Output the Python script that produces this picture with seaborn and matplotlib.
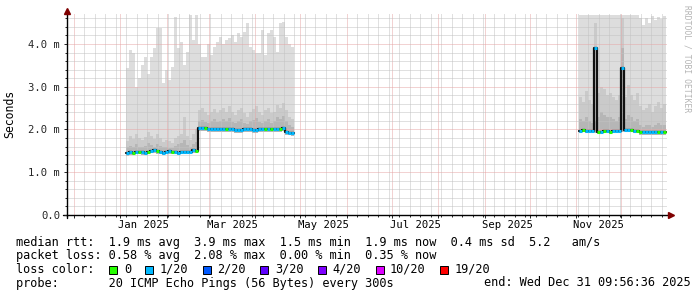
import numpy as np
import pandas as pd
import matplotlib
matplotlib.use("Agg")
import matplotlib.pyplot as plt
import matplotlib.dates as mdates
from matplotlib.patches import Rectangle
import seaborn as sns

# ---------------- data ----------------
step_days = 2
end_time = "2025-12-31 09:56:36"
span_days = 400

# segment 1 (Jan - Apr 2025), one value per 2 days
seg1_start = "2025-01-05"
seg1_top = [3.43, 3.86, 3.78, 3.0, 3.2, 3.5, 3.7, 3.3, 3.7, 3.9,
            4.37, 4.37, 3.08, 3.4, 3.16, 3.47, 4.64, 3.9, 4.05, 3.5,
            3.82, 4.68, 4.1, 4.68, 4.0, 3.7, 3.7, 4.0, 3.74, 3.94,
            4.05, 4.17, 4.0, 4.1, 4.13, 4.2, 4.05, 4.25, 4.17, 4.29,
            4.48, 3.94, 3.86, 3.78, 3.78, 4.33, 3.74, 4.25, 4.33, 4.17,
            3.82, 4.48, 4.52, 4.17, 4.0, 3.94]
seg1_mid = [1.72, 1.85, 1.78, 1.9, 1.8, 1.75, 1.82, 1.95, 1.85, 1.78,
            1.9, 1.8, 1.7, 1.75, 1.72, 1.68, 1.8, 1.85, 1.9, 2.3,
            1.85, 1.75, 1.9, 2.0, 2.45, 2.5, 2.4, 2.35, 2.42, 2.48,
            2.38, 2.45, 2.5, 2.42, 2.55, 2.4, 2.35, 2.45, 2.5, 2.38,
            2.3, 2.42, 2.48, 2.55, 2.4, 2.35, 2.45, 2.5, 2.38, 2.42,
            2.58, 2.5, 2.62, 2.45, 2.3, 2.25]
seg1_dark = [1.58, 1.62, 1.6, 1.65, 1.6, 1.58, 1.62, 1.68, 1.64, 1.6,
             1.66, 1.62, 1.58, 1.6, 1.57, 1.56, 1.62, 1.65, 1.68, 1.75,
             1.64, 1.6, 1.66, 1.7, 2.2, 2.22, 2.18, 2.15, 2.2, 2.24,
             2.18, 2.2, 2.25, 2.2, 2.28, 2.18, 2.15, 2.2, 2.24, 2.16,
             2.12, 2.2, 2.22, 2.28, 2.18, 2.15, 2.2, 2.25, 2.16, 2.2,
             2.3, 2.24, 2.32, 2.2, 2.1, 2.05]
seg1_median = [1.45, 1.47, 1.46, 1.47, 1.48, 1.47, 1.46, 1.48, 1.50, 1.52,
               1.49, 1.47, 1.46, 1.47, 1.49, 1.48, 1.47, 1.46, 1.47, 1.48,
               1.47, 1.48, 1.51, 1.50, 2.04, 2.03, 2.03, 2.02, 2.02, 2.02,
               2.01, 2.01, 2.01, 2.0, 2.0, 2.0, 1.99, 1.99, 1.99, 2.0,
               2.0, 2.0, 1.99, 1.99, 2.0, 2.0, 2.0, 2.01, 2.01, 2.01,
               2.0, 2.02, 2.03, 1.93, 1.92, 1.91]
seg1_min = [1.39, 1.41, 1.41, 1.42, 1.42, 1.41, 1.41, 1.42, 1.44, 1.45,
            1.43, 1.42, 1.41, 1.42, 1.43, 1.42, 1.42, 1.41, 1.42, 1.42,
            1.42, 1.43, 1.45, 1.44, 1.97, 1.96, 1.96, 1.95, 1.95, 1.95,
            1.94, 1.94, 1.94, 1.93, 1.93, 1.93, 1.92, 1.92, 1.92, 1.93,
            1.93, 1.93, 1.92, 1.92, 1.93, 1.93, 1.93, 1.94, 1.94, 1.94,
            1.93, 1.95, 1.96, 1.87, 1.86, 1.85]
seg1_loss = [1, 1, 0, 1, 0, 1, 1, 0, 1, 1,
             0, 1, 1, 1, 1, 0, 1, 1, 1, 1,
             1, 1, 1, 0, 1, 1, 0, 1, 1, 1,
             1, 1, 1, 0, 1, 1, 1, 1, 1, 1,
             1, 1, 1, 1, 1, 1, 0, 1, 0, 1,
             1, 0, 1, 1, 1, 1]

# segment 2 (Nov - Dec 2025)
seg2_start = "2025-11-03"
seg2_top = [4.68, 4.68, 4.68, 4.68, 4.68, 4.68, 4.68, 4.68, 4.68, 4.68,
            4.68, 4.68, 4.68, 4.68, 4.68, 4.68, 4.68, 4.68, 4.68, 4.68,
            4.6, 4.45, 4.6, 4.5, 4.65, 4.55, 4.62, 4.58, 4.65]
seg2_mid = [2.75, 2.65, 2.9, 2.7, 2.6, 4.5, 2.85, 3.0, 2.95, 2.8,
            2.85, 2.75, 2.7, 2.8, 4.6, 2.75, 3.05, 2.8, 2.7, 2.85,
            2.55, 2.45, 2.5, 2.6, 2.4, 2.55, 2.65, 2.5, 2.6]
seg2_dark = [2.25, 2.2, 2.3, 2.2, 2.15, 2.2, 2.3, 2.4, 2.35, 2.3,
             2.3, 2.25, 2.2, 2.3, 3.9, 2.25, 2.35, 2.3, 2.2, 2.25,
             2.1, 2.05, 2.1, 2.1, 2.05, 2.1, 2.15, 2.1, 2.1]
seg2_median = [1.97, 1.98, 1.97, 1.96, 1.96, 3.9, 1.95, 1.95, 1.96, 1.96,
               1.95, 1.96, 1.96, 1.96, 3.45, 1.99, 1.99, 1.98, 1.97, 1.96,
               1.94, 1.93, 1.93, 1.93, 1.93, 1.93, 1.94, 1.94, 1.94]
seg2_min = [1.92, 1.93, 1.92, 1.91, 1.91, 1.91, 1.90, 1.90, 1.91, 1.91,
            1.90, 1.91, 1.91, 1.91, 1.93, 1.94, 1.94, 1.93, 1.92, 1.91,
            1.88, 1.87, 1.87, 1.87, 1.87, 1.87, 1.88, 1.88, 1.88]
seg2_loss = [1, 0, 1, 1, 1, 1, 0, 1, 0, 1,
             0, 1, 1, 1, 1, 1, 1, 0, 1, 0,
             0, 1, 1, 1, 1, 1, 0, 1, 0]

loss_labels = ["0", "1/20", "2/20", "3/20", "4/20", "10/20", "19/20"]
loss_colors = ["#26ff00", "#00b8ff", "#0059ff", "#5e00ff", "#7e00ff", "#dd00ff", "#ff0000"]

y_ticks = [0, 1, 2, 3, 4]
y_tick_labels = ["0.0", "1.0 m", "2.0 m", "3.0 m", "4.0 m"]
x_label_months = ["2025-01", "2025-03", "2025-05", "2025-07", "2025-09", "2025-11"]
x_labels = ["Jan 2025", "Mar 2025", "May 2025", "Jul 2025", "Sep 2025", "Nov 2025"]

line_rtt = "median rtt:  1.9 ms avg  3.9 ms max  1.5 ms min  1.9 ms now  0.4 ms sd  5.2   am/s"
line_loss = "packet loss: 0.58 % avg  2.08 % max  0.00 % min  0.35 % now"
line_color = "loss color:"
line_probe = "probe:       20 ICMP Echo Pings (56 Bytes) every 300s"
line_end = "end: Wed Dec 31 09:56:36 2025"
y_unit = "Seconds"
watermark = "RRDTOOL / TOBI OETIKER"

# ---------------- style ----------------
sns.set_theme(style="ticks")
plt.rcParams["font.family"] = ["DejaVu Sans Mono", "DejaVu Sans"]
plt.rcParams["text.color"] = "black"

W, H = 697, 297
fig = plt.figure(figsize=(W / 100, H / 100), dpi=100, facecolor="white")
ax = fig.add_axes([67 / W, (H - 215) / H, 600 / W, (215 - 13) / H])
ax.set_facecolor("white")

x_end = pd.Timestamp(end_time)
x_start = x_end - pd.Timedelta(days=span_days)


def draw_segment(start, top, mid, dark, med, mn, loss):
    n = len(top)
    edges = pd.date_range(start, periods=n + 1, freq=f"{step_days}D")
    ext = lambda a: np.append(np.asarray(a, float), a[-1])
    ax.fill_between(edges, ext(mn), ext(top), step="post", color="#dddddd", lw=0, zorder=1)
    ax.fill_between(edges, ext(mn), ext(mid), step="post", color="#cacaca", lw=0, zorder=1.1)
    ax.fill_between(edges, ext(mn), ext(dark), step="post", color="#b6b6b6", lw=0, zorder=1.2)
    sns.lineplot(x=edges, y=ext(med), drawstyle="steps-post", color="#111111",
                 lw=1.6, ax=ax, zorder=3)
    en = mdates.date2num(edges.to_pydatetime())
    ax.hlines(med, en[:-1], en[1:], colors=[loss_colors[k] for k in loss],
              lw=2.2, zorder=4, capstyle="butt")


draw_segment(seg1_start, seg1_top, seg1_mid, seg1_dark, seg1_median, seg1_min, seg1_loss)
draw_segment(seg2_start, seg2_top, seg2_mid, seg2_dark, seg2_median, seg2_min, seg2_loss)

ax.set_xlim(x_start, x_end)
ax.set_ylim(0, 4.725)
ax.set_xlabel("")
ax.set_ylabel("")

months = pd.date_range("2024-12-01", "2025-12-01", freq="MS")
weeks = pd.date_range(x_start.normalize(), x_end, freq="W-SUN")
ax.set_xticks(months)
ax.set_xticklabels([])
ax.set_xticks(weeks, minor=True)
ax.set_yticks(y_ticks, y_tick_labels)
ax.set_yticks(np.arange(0.2, 4.72, 0.2), minor=True)

ax.set_axisbelow(False)
ax.grid(which="major", color="#e6a6a6", lw=0.72, ls=(0, (1, 1)), zorder=2)
ax.grid(which="minor", color="#c2c2c2", lw=0.72, ls=(0, (1, 1)), zorder=2)

ax.tick_params(axis="y", which="major", length=2, width=0.7, pad=3, labelsize=7.6,
               direction="out", left=True)
ax.tick_params(axis="y", which="minor", length=1.5, width=0.7, left=True)
ax.tick_params(axis="x", which="major", length=2.5, width=0.7, bottom=True)
ax.tick_params(axis="x", which="minor", length=1.5, width=0.7, bottom=True)

for s in ["top", "right"]:
    ax.spines[s].set_visible(False)
for s in ["left", "bottom"]:
    ax.spines[s].set_color("#000000")
    ax.spines[s].set_linewidth(1.0)
    ax.spines[s].set_zorder(5)

# axis extensions and arrows
ax.plot([-4 / 600, 0], [0, 0], transform=ax.transAxes, color="black", lw=1.0, clip_on=False)
ax.plot([0, 0], [-3 / 202, 0], transform=ax.transAxes, color="black", lw=1.0, clip_on=False)
ax.plot([0], [1 + 2.5 / 202], marker="^", ms=5, color="#7f0000", transform=ax.transAxes,
        clip_on=False, zorder=6)
ax.plot([1 + 3.5 / 600], [0], marker=">", ms=5, color="#7f0000", transform=ax.transAxes,
        clip_on=False, zorder=6)

# month labels centered in month
for m, lab in zip(x_label_months, x_labels):
    ts = pd.Timestamp(m)
    mid = ts + pd.Timedelta(days=ts.days_in_month / 2)
    ax.annotate(lab, xy=(mdates.date2num(mid.to_pydatetime()), 0),
                xycoords=("data", "axes fraction"), xytext=(0, -10),
                textcoords="offset pixels", ha="center", va="center",
                fontsize=7.6, annotation_clip=False)

# unit and watermark
fig.text(10 / W, 1 - 113.5 / H, y_unit, rotation=90, ha="center", va="center", fontsize=8.3)
fig.text(687 / W, 1 - 5 / H, watermark, rotation=270, ha="center", va="top",
         fontsize=5.8, color="#b4b4b4")

# legend text
fs = 8.6
cw = 0.602 * fs * 100 / 72
x0 = 16
fig.text(x0 / W, 1 - 242.5 / H, line_rtt, fontsize=fs, va="center", ha="left")
fig.text(x0 / W, 1 - 255.5 / H, line_loss, fontsize=fs, va="center", ha="left")
fig.text(x0 / W, 1 - 269.5 / H, line_color, fontsize=fs, va="center", ha="left")
col = 13
for lab, c in zip(loss_labels, loss_colors):
    sx = x0 + col * cw
    fig.add_artist(Rectangle((sx / W, (H - 273.5) / H), 8 / W, 8 / H,
                             transform=fig.transFigure, facecolor=c,
                             edgecolor="black", lw=0.7))
    fig.text((x0 + (col + 2) * cw) / W, 1 - 269.5 / H, lab, fontsize=fs,
             va="center", ha="left")
    col = col + 2 + len(lab) + 2
fig.text(x0 / W, 1 - 283 / H, line_probe, fontsize=fs, va="center", ha="left")
fig.text(691 / W, 1 - 283 / H, line_end, fontsize=fs, va="center", ha="right")

fig.savefig("out.png", dpi=100, facecolor="white")
